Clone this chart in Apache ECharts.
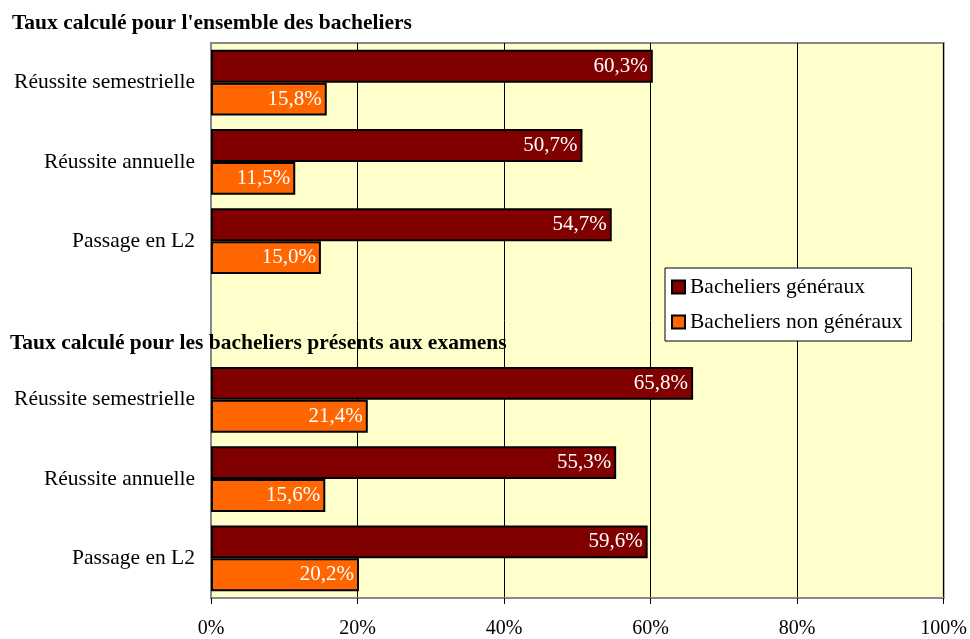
<!DOCTYPE html>
<html><head><meta charset="utf-8">
<script src="https://cdn.jsdelivr.net/npm/echarts@6/dist/echarts.min.js"></script>
<style>html,body{margin:0;padding:0;background:#fff}#c{width:970px;height:639px}</style>
</head><body><div id="c"></div>
<script>
var categories = ['Réussite semestrielle','Réussite annuelle','Passage en L2','','Réussite semestrielle','Réussite annuelle','Passage en L2'];
var generaux = [60.3, 50.7, 54.7, null, 65.8, 55.3, 59.6];
var nonGeneraux = [15.8, 11.5, 15.0, null, 21.4, 15.6, 20.2];
var xTicks = [0, 20, 40, 60, 80, 100];
var titles = ["Taux calculé pour l'ensemble des bacheliers", "Taux calculé pour les bacheliers présents aux examens"];
var font = 'Liberation Serif';
var chart = echarts.init(document.getElementById('c'));
function fmt(p){ return p.value.toFixed(1).replace('.', ',') + '%'; }
chart.setOption({
  animation: false,
  textStyle: {fontFamily: font},
  title: [
    {text: titles[0], left: 7, top: 7, padding: [5,5,5,5], textStyle: {fontFamily: font, fontWeight: 'bold', fontSize: 21.5, color: '#000'}},
    {text: titles[1], left: 5, top: 327, padding: [5,5,5,5], z: 10, textStyle: {fontFamily: font, fontWeight: 'bold', fontSize: 21.5, color: '#000'}}
  ],
  legend: {
    orient: 'vertical', left: 665, top: 268, width: 248,
    backgroundColor: '#fff', borderColor: '#000', borderWidth: 1,
    padding: [8, 9, 8, 6], itemGap: 13, itemWidth: 13, itemHeight: 13,
    textStyle: {fontFamily: font, fontSize: 21.5, color: '#000'},
    data: [{name: 'Bacheliers généraux', icon: 'rect'}, {name: 'Bacheliers non généraux', icon: 'rect'}]
  },
  grid: {left: 211, right: 24, top: 43, bottom: 40, show: true, backgroundColor: '#FFFFCC', borderColor: '#888', borderWidth: 2},
  xAxis: {
    type: 'value', min: 0, max: 100, interval: 20,
    axisLine: {show: true, lineStyle: {color: '#888', width: 2}},
    axisTick: {show: true, length: 6, lineStyle: {color: '#000'}},
    splitLine: {show: true, lineStyle: {color: '#000', width: 1}},
    axisLabel: {fontFamily: font, fontSize: 20, color: '#000', margin: 21,
      formatter: function(v){ return xTicks.indexOf(v) >= 0 ? v + '%' : ''; }}
  },
  yAxis: {
    type: 'category', data: categories, inverse: true,
    axisLine: {show: true, lineStyle: {color: '#888', width: 2}},
    axisTick: {show: false},
    axisLabel: {fontFamily: font, fontSize: 21.5, color: '#000', margin: 16}
  },
  series: [
    {name: 'Bacheliers généraux', type: 'bar', data: generaux, barGap: '0%', barCategoryGap: '17%',
     itemStyle: {color: '#800000', borderColor: '#000', borderWidth: 2},
     label: {show: true, position: 'insideRight', distance: 5, color: '#fff', fontFamily: font, fontSize: 21, formatter: fmt}},
    {name: 'Bacheliers non généraux', type: 'bar', data: nonGeneraux,
     itemStyle: {color: '#FF6600', borderColor: '#000', borderWidth: 2},
     label: {show: true, position: 'insideRight', distance: 5, color: '#fff', fontFamily: font, fontSize: 21, formatter: fmt}}
  ]
});
</script></body></html>
